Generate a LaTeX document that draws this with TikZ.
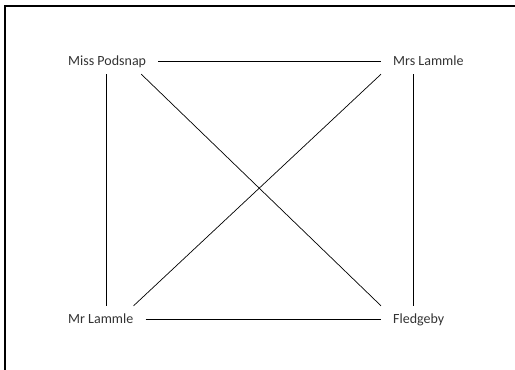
\documentclass[tikz,border=0pt]{standalone}
\usepackage{fontspec}
\setmainfont{Carlito}
\begin{document}
\begin{tikzpicture}[
        x=1pt,
        y=-1pt,
        % styles
        person/.style={anchor=base west,inner xsep=12pt,inner ysep=6pt,
            text height=11pt,text depth=3pt,text=black!80,
            font=\fontsize{14}{16}\selectfont},
        link/.style={line width=0.7pt},
        frame/.style={line width=1.3pt},
    ]
    \useasboundingbox (0,0) rectangle (515,370);

    % frame (top and left only)
    \draw[frame] (515,6) -- (5,6) -- (5,370);

    % people
    \node[person] (mp)  at (56,65)  {Miss Podsnap};
    \node[person] (mrs) at (381,65) {Mrs Lammle};
    \node[person] (mrl) at (56,323) {Mr Lammle};
    \node[person] (fl)  at (381,323) {Fledgeby};

    % links
    \draw[link] (mp.east) -- (mrs.west);
    \draw[link] (mrl.east) -- (fl.west);
    \draw[link] ([xshift=-1pt]mp.south) -- ([xshift=-1pt]mp.south |- mrl.north);
    \draw[link] ([xshift=-5pt]fl.north) -- ([xshift=-5pt]fl.north |- mrs.south);
    \draw[link] ([xshift=-17pt]mp.south east) -- (fl.north west);
    \draw[link] ([xshift=-12pt]mrl.north east) -- (mrs.south west);
\end{tikzpicture}
\end{document}
